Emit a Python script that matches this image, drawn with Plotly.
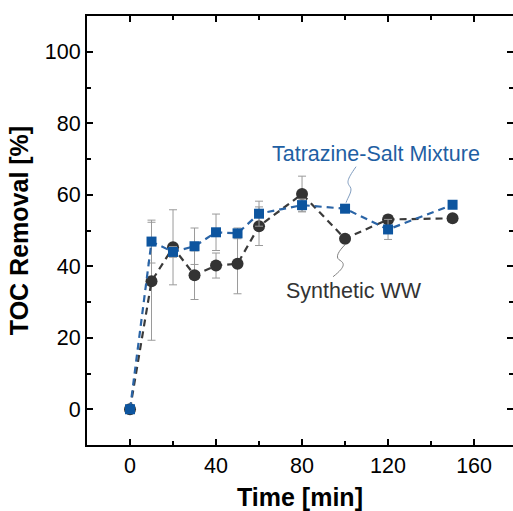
import plotly.graph_objects as go

# Sampling times [min]
time_min = [0, 10, 20, 30, 40, 50, 60, 80, 100, 120, 150]

# TOC removal [%] and standard deviations
tsm_removal = [0, 46.9, 44.0, 45.6, 49.5, 49.2, 54.7, 57.1, 56.1, 50.3, 57.2]
tsm_err = [0, 6.0, 1.5, 5.1, 5.1, 1.5, 3.5, 1.7, 1.0, 2.8, 0.8]

sww_removal = [0, 35.8, 45.3, 37.5, 40.2, 40.7, 51.2, 60.2, 47.7, 53.1, 53.4]
sww_err = [0, 16.5, 10.5, 6.8, 3.5, 8.4, 5.4, 5.0, 1.0, 1.2, 0.8]

x_ticks = [0, 40, 80, 120, 160]
y_ticks = [0, 20, 40, 60, 80, 100]

FONT = "Liberation Sans, Arial, sans-serif"
BLUE = "#0d559f"
BLUE_TEXT = "#1f5fa3"
DARK = "#333333"
ERR = "#9a9a9a"

fig = go.Figure()

fig.add_trace(go.Scatter(
    x=time_min, y=sww_removal, name="Synthetic WW",
    mode="lines+markers",
    line=dict(color="#3a3a3a", width=2.2, dash="7px,5px"),
    marker=dict(symbol="circle", size=12, color=DARK),
    error_y=dict(type="data", array=sww_err, color=ERR, thickness=1, width=4),
))
fig.add_trace(go.Scatter(
    x=time_min, y=tsm_removal, name="Tatrazine-Salt Mixture",
    mode="lines+markers",
    line=dict(color="#2a64a6", width=2.2, dash="7px,5px"),
    marker=dict(symbol="square", size=10, color=BLUE),
    error_y=dict(type="data", array=tsm_err, color=ERR, thickness=1, width=4),
))

# Labels with wavy leader lines anchored at the 100 min points
i100 = time_min.index(100)
fig.add_annotation(x=114.5, y=71.3, text="Tatrazine-Salt Mixture", showarrow=False,
                   font=dict(family=FONT, size=21.5, color=BLUE_TEXT))
fig.add_annotation(x=104.2, y=33.0, text="Synthetic WW", showarrow=False,
                   font=dict(family=FONT, size=21.5, color=DARK))
fig.add_shape(type="path", xref="x", yref="y",
              xsizemode="pixel", ysizemode="pixel",
              xanchor=time_min[i100], yanchor=tsm_removal[i100],
              path="M 1,6 C 3,12 8,18 5,22 C 2,26 1,28 11,42",
              line=dict(color="#7f9cbf", width=1))
fig.add_shape(type="path", xref="x", yref="y",
              xsizemode="pixel", ysizemode="pixel",
              xanchor=time_min[i100], yanchor=sww_removal[i100],
              path="M 0,-6 C -6,-12 -10,-18 -6,-21 C -1,-24 2,-27 -12,-38",
              line=dict(color="#808080", width=1))

axis_common = dict(
    showline=True, linecolor="black", linewidth=2,
    ticks="inside", ticklen=6, tickwidth=1.5, tickcolor="black",
    showgrid=False, zeroline=False,
    tickfont=dict(family=FONT, size=21.5, color="black"),
    title_font=dict(family=FONT, size=25, color="black"),
)

fig.update_xaxes(
    range=[-20, 178.1], tickvals=x_ticks, mirror="ticks",
    minor=dict(dtick=20, tick0=0, ticks="inside", ticklen=4, tickwidth=1.5, tickcolor="black"),
    title_text="<b>Time [min]</b>", title_standoff=14,
    **axis_common,
)
fig.update_yaxes(
    range=[-10, 110], tickvals=y_ticks,
    minor=dict(dtick=10, tick0=0, ticks="inside", ticklen=4, tickwidth=1.5, tickcolor="black"),
    title_text="<b>TOC Removal [%]</b>", title_standoff=9,
    **axis_common,
)

# Right-hand tick marks without a visible frame line
fig.update_layout(yaxis2=dict(
    overlaying="y", side="right", matches="y", range=[-10, 110],
    tickvals=y_ticks, ticks="inside", ticklen=6, tickwidth=1.5, tickcolor="black",
    minor=dict(dtick=10, tick0=0, ticks="inside", ticklen=4, tickwidth=1.5, tickcolor="black"),
    showticklabels=False, showline=False, showgrid=False, zeroline=False,
))
fig.add_trace(go.Scatter(x=[None], y=[None], yaxis="y2", showlegend=False, hoverinfo="skip"))

fig.update_layout(
    width=513, height=511,
    margin=dict(l=87, r=0, t=16, b=66),
    paper_bgcolor="white", plot_bgcolor="white",
    showlegend=False,
    font=dict(family=FONT),
)

fig.write_html("out.html")
